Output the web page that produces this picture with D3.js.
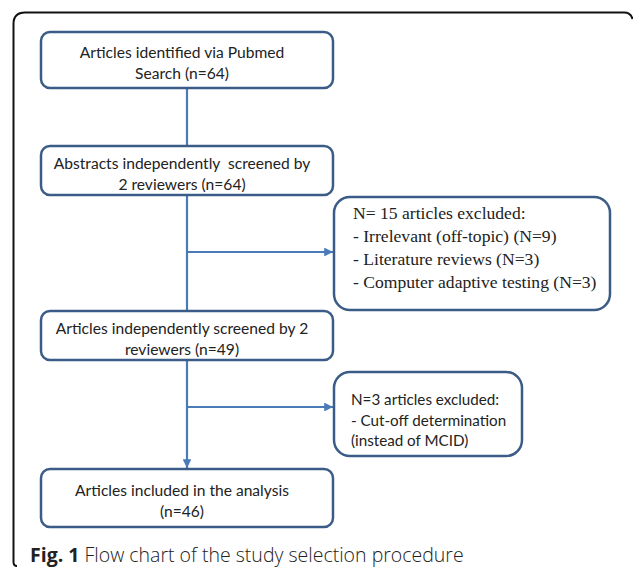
<!DOCTYPE html>
<html>
<head>
<meta charset="utf-8">
<script src="https://cdn.jsdelivr.net/npm/d3@7"></script>
<style>
	body { margin: 0; background: #fff; }
	svg { display: block; }
</style>
</head>
<body>
<div id="graph"></div>
<script>
"use strict";
// flow steps (main column)
let stepLabels = [
	["Articles identified via Pubmed", "Search (n=64)"],
	["Abstracts independently  screened by", "2 reviewers (n=64)"],
	["Articles independently screened by 2", "reviewers (n=49)"],
	["Articles included in the analysis", "(n=46)"]
];
let stepCounts = [64, 64, 49, 46];
// exclusions (side boxes), attached after step index
let exclusionAfter = [1, 2];
let exclusionLabels = [
	["N= 15 articles excluded:", "- Irrelevant (off-topic) (N=9)", "- Literature reviews (N=3)", "- Computer adaptive testing (N=3)"],
	["N=3 articles excluded:", "- Cut-off determination", "(instead of MCID)"]
];
let exclusionCounts = [15, 3];
let captionBold = "Fig. 1";
let captionText = " Flow chart of the study selection procedure";

let width = 633, height = 571;
let boxStroke = "#3b5c86";
let lineColor = "#4a7ab8";

let svg = d3.select("#graph")
			.append("svg")
			.attr("width", width)
			.attr("height", height);

let defs = svg.append("defs");
defs.append("marker")
	.attr("id", "arrow")
	.attr("viewBox", "0 0 10 10")
	.attr("refX", 10)
	.attr("refY", 5)
	.attr("markerWidth", 4)
	.attr("markerHeight", 4)
	.attr("markerUnits", "strokeWidth")
	.attr("orient", "auto")
	.append("path")
	.attr("d", "M0,0 L10,5 L0,10 z")
	.attr("fill", lineColor);

// outer frame (top + left edges only visible)
svg.append("path")
	.attr("d", "M17,566 Q13.5,566 13.5,562 L13.5,24 Q13.5,12.5 25,12.5 L624,12.5 Q631,12.5 632.5,19")
	.attr("fill", "none")
	.attr("stroke", "#111")
	.attr("stroke-width", 2);

// layout of main column
let colX = d3.scaleLinear().domain([0, 1]).range([41, 333]);
let stepTop = [32, 146, 311, 469];
let stepBottom = [88, 195, 360, 527];
let centerX = 187;
let textX = 182;

// side boxes
let sideLeft = 334;
let sideBoxes = [
	{top: 197, bottom: 310, right: 610, font: "'Liberation Serif', serif", size: 17.6, lh: 23, tx: 353, ty: 218.5},
	{top: 372, bottom: 456, right: 522, font: "Lato, sans-serif", size: 15.2, lh: 20.5, tx: 351, ty: 405}
];
let branchY = [252, 407];

// connectors
let conn = svg.append("g")
	.attr("stroke", lineColor)
	.attr("stroke-width", 2.2)
	.attr("fill", "none");

conn.append("line")
	.attr("x1", centerX).attr("x2", centerX)
	.attr("y1", stepBottom[0]).attr("y2", stepTop[1]);
conn.append("line")
	.attr("x1", centerX).attr("x2", centerX)
	.attr("y1", stepBottom[1]).attr("y2", stepTop[2]);
conn.append("line")
	.attr("x1", centerX).attr("x2", centerX)
	.attr("y1", stepBottom[2]).attr("y2", stepTop[3] - 1)
	.attr("marker-end", "url(#arrow)");

exclusionAfter.forEach(function(s, i)
{
	conn.append("line")
		.attr("x1", centerX).attr("x2", sideLeft - 1)
		.attr("y1", branchY[i]).attr("y2", branchY[i])
		.attr("marker-end", "url(#arrow)");
});

// main boxes
let steps = svg.append("g")
	.selectAll("g.step")
	.data(stepLabels)
	.enter().append("g")
	.attr("class", "step");

steps.append("rect")
	.attr("x", colX(0))
	.attr("y", function(d, i) { return stepTop[i]; })
	.attr("width", colX(1) - colX(0))
	.attr("height", function(d, i) { return stepBottom[i] - stepTop[i]; })
	.attr("rx", 9)
	.attr("fill", "#fff")
	.attr("stroke", boxStroke)
	.attr("stroke-width", 2.5);

steps.each(function(d, i)
{
	let mid = (stepTop[i] + stepBottom[i]) / 2;
	d3.select(this).selectAll("text")
		.data(d)
		.enter().append("text")
		.attr("x", textX)
		.attr("y", function(t, j) { return mid - 2 + j * 21; })
		.attr("text-anchor", "middle")
		.attr("font-family", "Lato, sans-serif")
		.attr("font-size", 15.6)
		.attr("fill", "#222")
		.attr("xml:space", "preserve")
		.text(function(t) { return t; });
});

// exclusion boxes
exclusionLabels.forEach(function(lines, i)
{
	let b = sideBoxes[i];
	let g = svg.append("g");
	g.append("rect")
		.attr("x", sideLeft)
		.attr("y", b.top)
		.attr("width", b.right - sideLeft)
		.attr("height", b.bottom - b.top)
		.attr("rx", 16)
		.attr("fill", "#fff")
		.attr("stroke", boxStroke)
		.attr("stroke-width", 2.5);
	g.selectAll("text")
		.data(lines)
		.enter().append("text")
		.attr("x", b.tx)
		.attr("y", function(t, j) { return b.ty + j * b.lh; })
		.attr("font-family", b.font)
		.attr("font-size", b.size)
		.attr("fill", "#222")
		.text(function(t) { return t; });
});

// caption
let cap = svg.append("text")
	.attr("x", 30)
	.attr("y", 562)
	.attr("font-family", "'Open Sans', sans-serif")
	.attr("font-size", 19.5)
	.attr("fill", "#222")
	.attr("xml:space", "preserve");
cap.append("tspan").attr("font-weight", "bold").text(captionBold);
cap.append("tspan").attr("font-weight", 300).text(captionText);
</script>
</body>
</html>
